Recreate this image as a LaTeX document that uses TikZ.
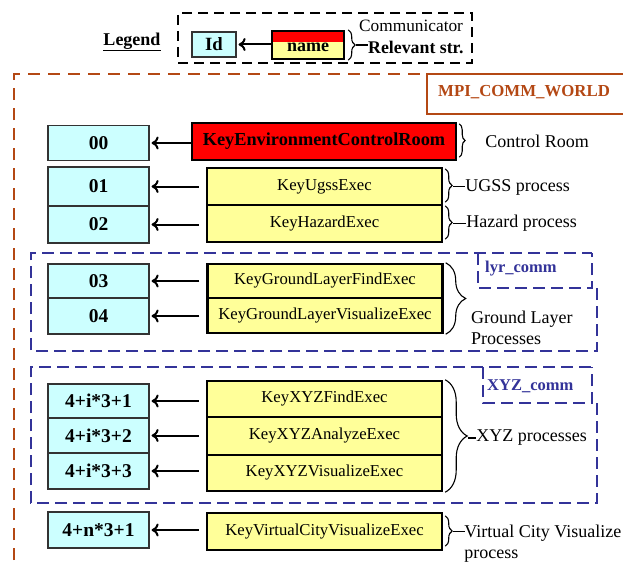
\documentclass[tikz,border=0pt]{standalone}
\usepackage{fontspec}
\setmainfont{Liberation Serif}
\usetikzlibrary{arrows.meta,decorations.pathreplacing,calc}
\definecolor{idcyan}{RGB}{204,255,255}
\definecolor{boxyellow}{RGB}{255,255,153}
\definecolor{worldc}{RGB}{180,72,20}
\definecolor{commblue}{RGB}{51,51,153}
\begin{document}
\begin{tikzpicture}[x=1pt,y=-1pt,
  idbox/.style={draw=black!80, line width=1.2pt, fill=idcyan, minimum width=101pt, inner sep=0pt, font=\fontsize{19.5}{22}\selectfont\bfseries},
  ybox/.style={draw=black, line width=2.4pt, fill=boxyellow, minimum width=235pt, inner sep=0pt, font=\fontsize{16.7}{19}\selectfont},
  arr/.style={line width=2pt, -{To[length=7pt,width=13pt]}},
  brc/.style={decorate, decoration={brace, amplitude=#1, raise=2pt}, line width=1.1pt},
  brc/.default=6pt,
  stub/.style={line width=1.1pt},
  lbl/.style={anchor=west, inner sep=0pt, font=\fontsize{18}{21}\selectfont, align=left},
  tag/.style={anchor=west, inner sep=0pt, text=commblue, font=\fontsize{16.5}{19}\selectfont\bfseries},
  bluedash/.style={draw=commblue, line width=2pt, dash pattern=on 12pt off 6pt},
  worlddash/.style={draw=worldc, line width=2pt, dash pattern=on 12pt off 8pt},
]
\clip (0,0) rectangle (623,567);
\fill[white] (0,0) rectangle (623,567);

% ---------- legend ----------
\node[font=\fontsize{18}{20}\selectfont\bfseries, inner sep=0pt] (legend) at (132,42) {\underline{Legend}};
\node[draw, line width=2pt, dash pattern=on 10pt off 6pt, minimum width=294pt, minimum height=50pt] (legbox) at (325,38) {};
\node[idbox, minimum width=44pt, minimum height=25pt, font=\fontsize{18.7}{20}\selectfont\bfseries] (lid) at (214,44.5) {Id};
\node[ybox, minimum width=72pt, minimum height=28pt, font=\fontsize{18}{20}\selectfont\bfseries,
  path picture={\fill[red] (path picture bounding box.north west) rectangle ([yshift=-11pt]path picture bounding box.north east);}]
  (lname) at (308,45) {\raisebox{-7pt}[0pt][0pt]{name}};
\draw[arr] (lname.west |- lid) -- ($(lid.east)+(2,0)$);
\draw[decorate, decoration={brace, amplitude=7pt, raise=3pt}, line width=1.1pt] (lname.north east) -- (lname.south east);
\coordinate (ltip) at ($(lname.east)+(11,0)$);
\node[anchor=west, inner sep=0pt, font=\fontsize{17.3}{19}\selectfont] (comm) at (359,26) {Communicator};
\node[anchor=west, inner sep=0pt, font=\fontsize{17.8}{19}\selectfont\bfseries] (rel) at (368,47) {Relevant str.};
\draw[stub] (ltip) -- (rel.west |- ltip);

% ---------- MPI_COMM_WORLD ----------
\draw[worlddash] (14,620) -- (14,74) -- (640,74);
\draw[worldc, line width=1.8pt] (640,114) -- (427,114) -- (427,74) -- (640,74);
\node[anchor=west, inner sep=0pt, text=worldc, font=\fontsize{16.8}{19}\selectfont\bfseries] (mpi) at (438,92) {MPI\_COMM\_WORLD};

% ---------- control room ----------
\node[idbox, minimum height=35pt] (i00) at (98.5,143) {00};
\node[ybox, fill=red, minimum width=264pt, minimum height=37pt, font=\fontsize{18.3}{21}\selectfont\bfseries] (ctrl) at (324,141.5) {KeyEnvironmentControlRoom};
\draw[arr] (ctrl.west |- i00) -- ($(i00.east)+(2,0)$);
\draw[brc=6pt] ([yshift=-2pt]ctrl.north east) -- ([yshift=4pt]ctrl.south east);
\node[lbl] (lctrl) at ($(ctrl.east)+(28,0)$) {Control Room};

% ---------- UGSS / Hazard ----------
\node[idbox, minimum height=39pt] (i01) at (98.5,186.5) {01};
\node[idbox, minimum height=37pt] (i02) at (98.5,224.5) {02};
\node[ybox, minimum height=37pt] (ugss) at (324.5,186.5) {KeyUgssExec};
\node[ybox, minimum height=37pt] (haz) at (324.5,223.5) {KeyHazardExec};
\draw[arr] ($(ugss.west |- i01)+(-7,0)$) -- ($(i01.east)+(2,0)$);
\draw[arr] ($(haz.west |- i02)+(-7,0)$) -- ($(i02.east)+(2,0)$);
\draw[brc=7pt] ([yshift=-2pt]ugss.north east) -- ([yshift=4pt]ugss.south east);
\draw[brc=7pt] ([yshift=-2pt]haz.north east) -- ([yshift=4pt]haz.south east);
\coordinate (tu) at ($(ugss.east)+(10,0)$);
\coordinate (th) at ($(haz.east)+(10,0)$);
\node[lbl] (lugss) at ($(ugss.east)+(22,1)$) {UGSS process};
\node[lbl] (lhaz) at ($(haz.east)+(23,0)$) {Hazard process};
\draw[stub] (tu) -- (lugss.west |- tu);
\draw[stub] (th) -- (lhaz.west |- th);

% ---------- ground layer ----------
\draw[bluedash] (597,288) -- (597,351) -- (31,351) -- (31,253) -- (592,253);
\draw[bluedash] (478,253) -- (478,288) -- (592,288) -- (592,253);
\node[tag] (lyr) at (485,269) {lyr\_comm};
\node[idbox, minimum height=34pt] (i03) at (98.5,281) {03};
\node[idbox, minimum height=36pt] (i04) at (98.5,316) {04};
\node[ybox, minimum height=34pt] (gfind) at (325,281) {KeyGroundLayerFindExec};
\node[ybox, minimum height=35pt] (gvis) at (325,315.5) {KeyGroundLayerVisualizeExec};
\draw[arr] ($(gfind.west |- i03)+(-7,0)$) -- ($(i03.east)+(2,0)$);
\draw[arr] ($(gvis.west |- i04)+(-7,0)$) -- ($(i04.east)+(2,0)$);
\draw[brc=20pt] (gfind.north east) -- (gvis.south east);
\node[lbl] (lgnd) at (471,327.5) {Ground Layer\\Processes};

% ---------- XYZ ----------
\draw[bluedash] (597,403) -- (597,503) -- (31,503) -- (31,367) -- (592,367);
\draw[bluedash] (483,367) -- (483,403) -- (592,403) -- (592,367);
\node[tag] (xyz) at (487,386) {XYZ\_comm};
\node[idbox, minimum height=34pt] (ix1) at (98.5,401) {4+i*3+1};
\node[idbox, minimum height=35pt] (ix2) at (98.5,435.5) {4+i*3+2};
\node[idbox, minimum height=36pt] (ix3) at (98.5,471) {4+i*3+3};
\node[ybox, minimum height=36pt] (xf) at (324.5,399) {KeyXYZFindExec};
\node[ybox, minimum height=38pt] (xa) at (324.5,436) {KeyXYZAnalyzeExec};
\node[ybox, minimum height=36pt] (xv) at (324.5,473) {KeyXYZVisualizeExec};
\draw[arr] ($(xf.west |- ix1)+(-7,0)$) -- ($(ix1.east)+(2,0)$);
\draw[arr] ($(xa.west |- ix2)+(-7,0)$) -- ($(ix2.east)+(2,0)$);
\draw[arr] ($(xv.west |- ix3)+(-7,0)$) -- ($(ix3.east)+(2,0)$);
\draw[brc=22pt] (xf.north east) -- (xv.south east);
\coordinate (tx) at ($(xa.east)+(25,2)$);
\node[lbl] (lxyz) at ($(xa.east)+(33,2)$) {XYZ processes};
\draw[stub] (tx) -- (lxyz.west |- tx);

% ---------- virtual city ----------
\node[idbox, minimum height=36pt] (in) at (98.5,530) {4+n*3+1};
\node[ybox, minimum height=37pt] (vc) at (324.5,531.5) {KeyVirtualCityVisualizeExec};
\draw[arr] ($(vc.west |- in)+(-7,0)$) -- ($(in.east)+(2,0)$);
\draw[brc=7pt] ([yshift=-4pt]vc.north east) -- ([yshift=5pt]vc.south east);
\coordinate (tv) at ($(vc.east)+(10,0)$);
\node[lbl] (lvc) at ($(vc.east)+(21,12)$) {Virtual City Visualize\\process};
\draw[stub] (tv) -- ($(lvc.west |- tv)+(1,0)$);
\end{tikzpicture}
\end{document}
